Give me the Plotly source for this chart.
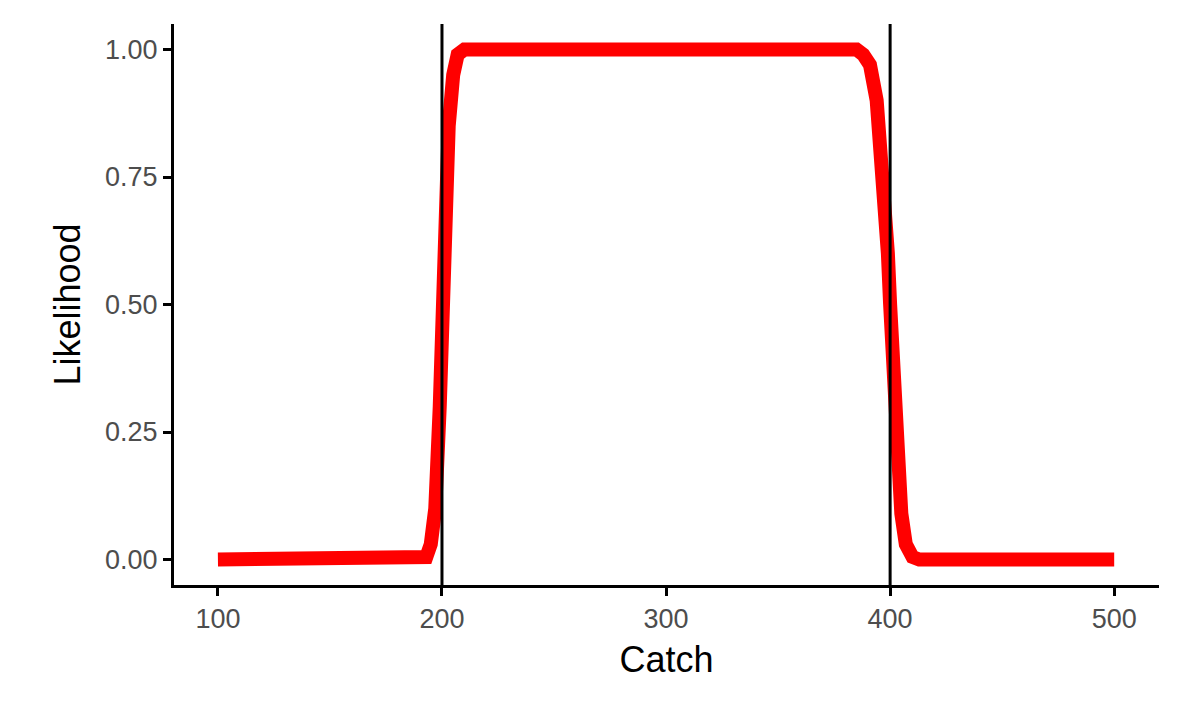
import plotly.graph_objects as go

# values
catch = [100, 150, 190, 193, 195, 197, 199, 200, 201, 203, 205, 207, 210, 250, 300, 350,
         385, 388, 391, 394, 397, 399, 400, 401, 403, 405, 407, 410, 413, 450, 500]
likelihood = [0.0, 0.0, 0.0, 0.005, 0.03, 0.1, 0.3, 0.5, 0.65, 0.85, 0.95, 0.99, 1.0, 1.0, 1.0, 1.0,
              1.0, 0.99, 0.97, 0.9, 0.75, 0.6, 0.5, 0.4, 0.2, 0.09, 0.03, 0.005, 0.0, 0.0, 0.0]
bounds = [200, 400]

fig = go.Figure()
fig.add_trace(go.Scatter(x=catch, y=likelihood, mode="lines",
                         line=dict(color="#ff0000", width=14, shape="linear")))
for b in bounds:
    fig.add_vline(x=b, line=dict(color="black", width=3))

fig.update_layout(
    width=1181, height=708,
    paper_bgcolor="white", plot_bgcolor="white",
    margin=dict(l=166, r=30, t=16, b=131),
    showlegend=False,
    font=dict(family="Liberation Sans, Arial, sans-serif"),
)
fig.update_xaxes(range=[80.4, 520], tickvals=[100, 200, 300, 400, 500],
                 showgrid=False, zeroline=False, showline=True, linecolor="black", linewidth=3,
                 ticks="outside", ticklen=8, tickwidth=3, tickcolor="black",
                 tickfont=dict(size=27, color="#4d4d4d"),
                 title=dict(text="Catch", font=dict(size=36, color="black"), standoff=14))
fig.update_yaxes(range=[-0.05, 1.05], tickvals=[0, 0.25, 0.5, 0.75, 1.0],
                 ticktext=["0.00", "0.25", "0.50", "0.75", "1.00"],
                 showgrid=False, zeroline=False, showline=True, linecolor="black", linewidth=3,
                 ticks="outside", ticklen=8, tickwidth=3, tickcolor="black",
                 tickfont=dict(size=27, color="#4d4d4d"),
                 title=dict(text="Likelihood", font=dict(size=36, color="black"), standoff=14))

fig.write_html("out.html")
